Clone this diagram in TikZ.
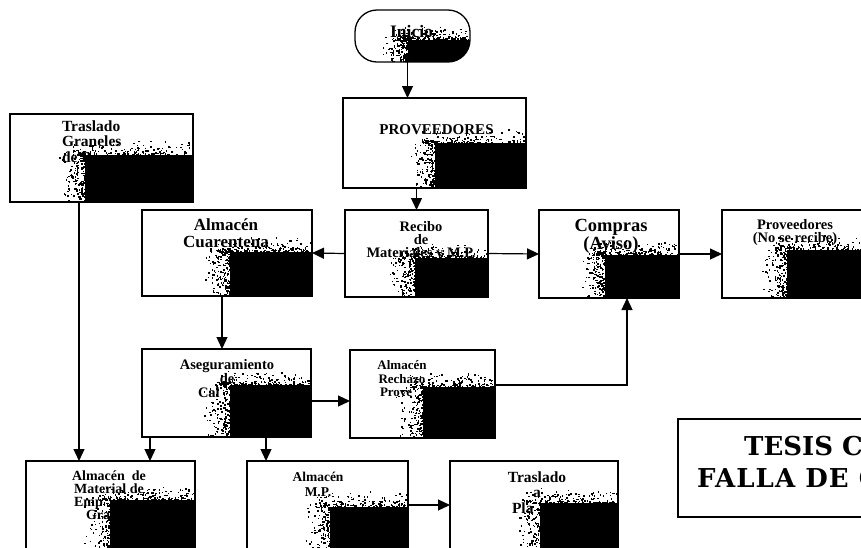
\documentclass[tikz,border=0pt]{standalone}
\usepackage{fontspec}
\setmainfont{Liberation Serif}
\newfontfamily\stampfont{DejaVu Serif}
\usetikzlibrary{arrows.meta}

% font size with tight leading
\newcommand\fs[2]{\fontsize{#1}{#2}\selectfont\lineskiplimit=-50pt\relax}

% dark toner patch in the lower right part of a box, with a grainy edge
\newcommand\grainpatch[4]{%
  \fill[black] (#1,#2) rectangle (#3,#4);
  \foreach \k in {1,...,170}{%
    \pgfmathsetmacro\gx{#1-28*rnd*rnd}%
    \pgfmathsetmacro\gy{#2-4+(#4-#2+4)*rnd}%
    \fill[black] (\gx,\gy) rectangle ++(1.5,1.5);
  }%
  \foreach \k in {1,...,170}{%
    \pgfmathsetmacro\gx{#1-14+(#3-#1+14)*rnd}%
    \pgfmathsetmacro\gy{#2-16*rnd*rnd}%
    \fill[black] (\gx,\gy) rectangle ++(1.5,1.5);
  }%
}

\begin{document}
\begin{tikzpicture}[x=1pt,y=-1pt,
  box/.style={draw, line width=1.3pt, rectangle, inner sep=0pt, outer sep=0pt},
  arr/.style={line width=1.2pt, -{Triangle[length=12pt,width=11pt]}},
  txt/.style={inner sep=0pt, outer sep=0pt, align=center, anchor=north}]

\fill[white] (0,0) rectangle (861,547);
\useasboundingbox (0,0) rectangle (861,547);
\clip (0,0) rectangle (861,547);
\pgfmathsetseed{7}

% ---------- texts ----------
\node[txt, font=\fs{17.5}{17}\bfseries] (t-ini) at (411.5,24.9) {Inicio};
\node[txt, align=left, anchor=north west, font=\fs{15.5}{15.5}\bfseries] (t-tgr) at (62,120.3)
  {Traslado\\Graneles\\de P};
\node[txt, font=\fs{15}{15}\bfseries] (t-prov) at (436.5,124.9) {PROVEEDORES};
\node[txt, font=\fs{14.5}{13}\bfseries] (t-rec) at (421,221)
  {Recibo\\de\\Materiales y M.P.};
\node[txt, font=\fs{17}{17}\bfseries] (t-cua) at (226,219.1)
  {Almacén\\Cuarentena};
\node[txt, font=\fs{18.5}{18}\bfseries] (t-com) at (611,219.2)
  {Compras\\(Aviso)};
\node[txt, font=\fs{14.5}{13}\bfseries] (t-pno) at (795,219.1)
  {Proveedores\\(No se recibe)};
\node[txt, font=\fs{14.5}{14}\bfseries] (t-ase) at (227,359.1)
  {Aseguramiento\\de\\\makebox[58pt][l]{Cal}};
\node[txt, font=\fs{13}{13.5}\bfseries] (t-rch) at (402,360.9)
  {Almacén\\Rechazo\\\makebox[44pt][l]{Prove}};
\node[txt, font=\fs{14}{13}\bfseries] (t-amg) at (109,471.2)
  {Almacén\ \ de\\Material de\\\makebox[70pt][l]{Emp}\\\makebox[46pt][l]{Gran}};
\node[txt, font=\fs{13.5}{15}\bfseries] (t-amp) at (318,472.5)
  {Almacén\\M.P.};
\node[txt, font=\fs{15.5}{15.5}\bfseries] (t-tpl) at (537,471.5)
  {Traslado\\a\\\makebox[50pt][l]{Pla}};
\node[inner sep=0pt, anchor=base west, font=\stampfont\bfseries\fs{26}{26}] (t-tes1) at (744,455) {TESIS CO};
\node[inner sep=0pt, anchor=base west, font=\stampfont\bfseries\fs{26}{26}\addfontfeature{LetterSpace=4}] (t-tes2) at (697,487) {FALLA DE O};

% ---------- toner patches ----------
\begin{scope}
  \clip[rounded corners=22pt] (355,10) rectangle (470,62);
  \grainpatch{408}{40}{470}{62}
\end{scope}
\grainpatch{85}{155}{193}{202}
\grainpatch{435}{143}{526}{188}
\grainpatch{415}{258}{488}{297}
\grainpatch{230}{252}{312}{296}
\grainpatch{605}{255}{679}{298}
\grainpatch{787}{250}{868}{298}
\grainpatch{230}{385}{311}{437}
\grainpatch{423}{387}{495}{438}
\grainpatch{110}{500}{195}{561}
\grainpatch{330}{507}{408}{561}
\grainpatch{540}{503}{618}{561}

% ---------- boxes ----------
\node[box, rounded corners=22pt, minimum width=115pt, minimum height=52pt] (ini) at (412.5,36) {};
\node[box, minimum width=183pt, minimum height=88pt] (tgr) at (101.5,158) {};
\node[box, minimum width=183pt, minimum height=90pt] (prov) at (434.5,143) {};
\node[box, minimum width=143pt, minimum height=87pt] (rec) at (416.5,253.5) {};
\node[box, minimum width=170pt, minimum height=86pt] (cua) at (227,253) {};
\node[box, minimum width=140pt, minimum height=88pt] (com) at (609,254) {};
\node[box, minimum width=146pt, minimum height=88pt] (pno) at (795,254) {};
\node[box, minimum width=169pt, minimum height=88pt] (ase) at (226.5,393) {};
\node[box, minimum width=145pt, minimum height=88pt] (rch) at (422.5,394) {};
\node[box, minimum width=169pt, minimum height=100pt] (amg) at (110.5,511) {};
\node[box, minimum width=161pt, minimum height=100pt] (amp) at (327.5,511) {};
\node[box, minimum width=168pt, minimum height=100pt] (tpl) at (534,511) {};
\node[box, line width=1.2pt, minimum width=202pt, minimum height=98pt] (tes) at (779,468) {};

% ---------- connectors ----------
\draw[arr] ([xshift=-5pt]ini.south) -- ([xshift=-5pt]ini.south |- prov.north);
\draw[arr] (prov.south -| rec.north) -- (rec.north);
\draw[arr] (rec.west) -- (cua.east);
\draw[arr] (rec.east) -- (com.west);
\draw[arr] (com.east) -- (pno.west);
\draw[arr] ([xshift=-5pt]cua.south) -- ([xshift=-5pt]cua.south |- ase.north);
\draw[arr] ([yshift=-8pt]ase.east) -- ([yshift=-8pt]ase.east -| rch.west);
\draw[arr] ([yshift=9pt]rch.east) -| ([xshift=18pt]com.south);
\draw[arr] ([xshift=-22.5pt]tgr.south) -- ([xshift=-22.5pt]tgr.south |- amg.north);
\draw[arr] ([xshift=-76.5pt]ase.south) -- ([xshift=-76.5pt]ase.south |- amg.north);
\draw[arr] ([xshift=39.5pt]ase.south) -- ([xshift=39.5pt]ase.south |- amp.north);
\draw[arr] ([yshift=6pt]amp.east) -- ([yshift=6pt]amp.east -| tpl.west);
\end{tikzpicture}
\end{document}
